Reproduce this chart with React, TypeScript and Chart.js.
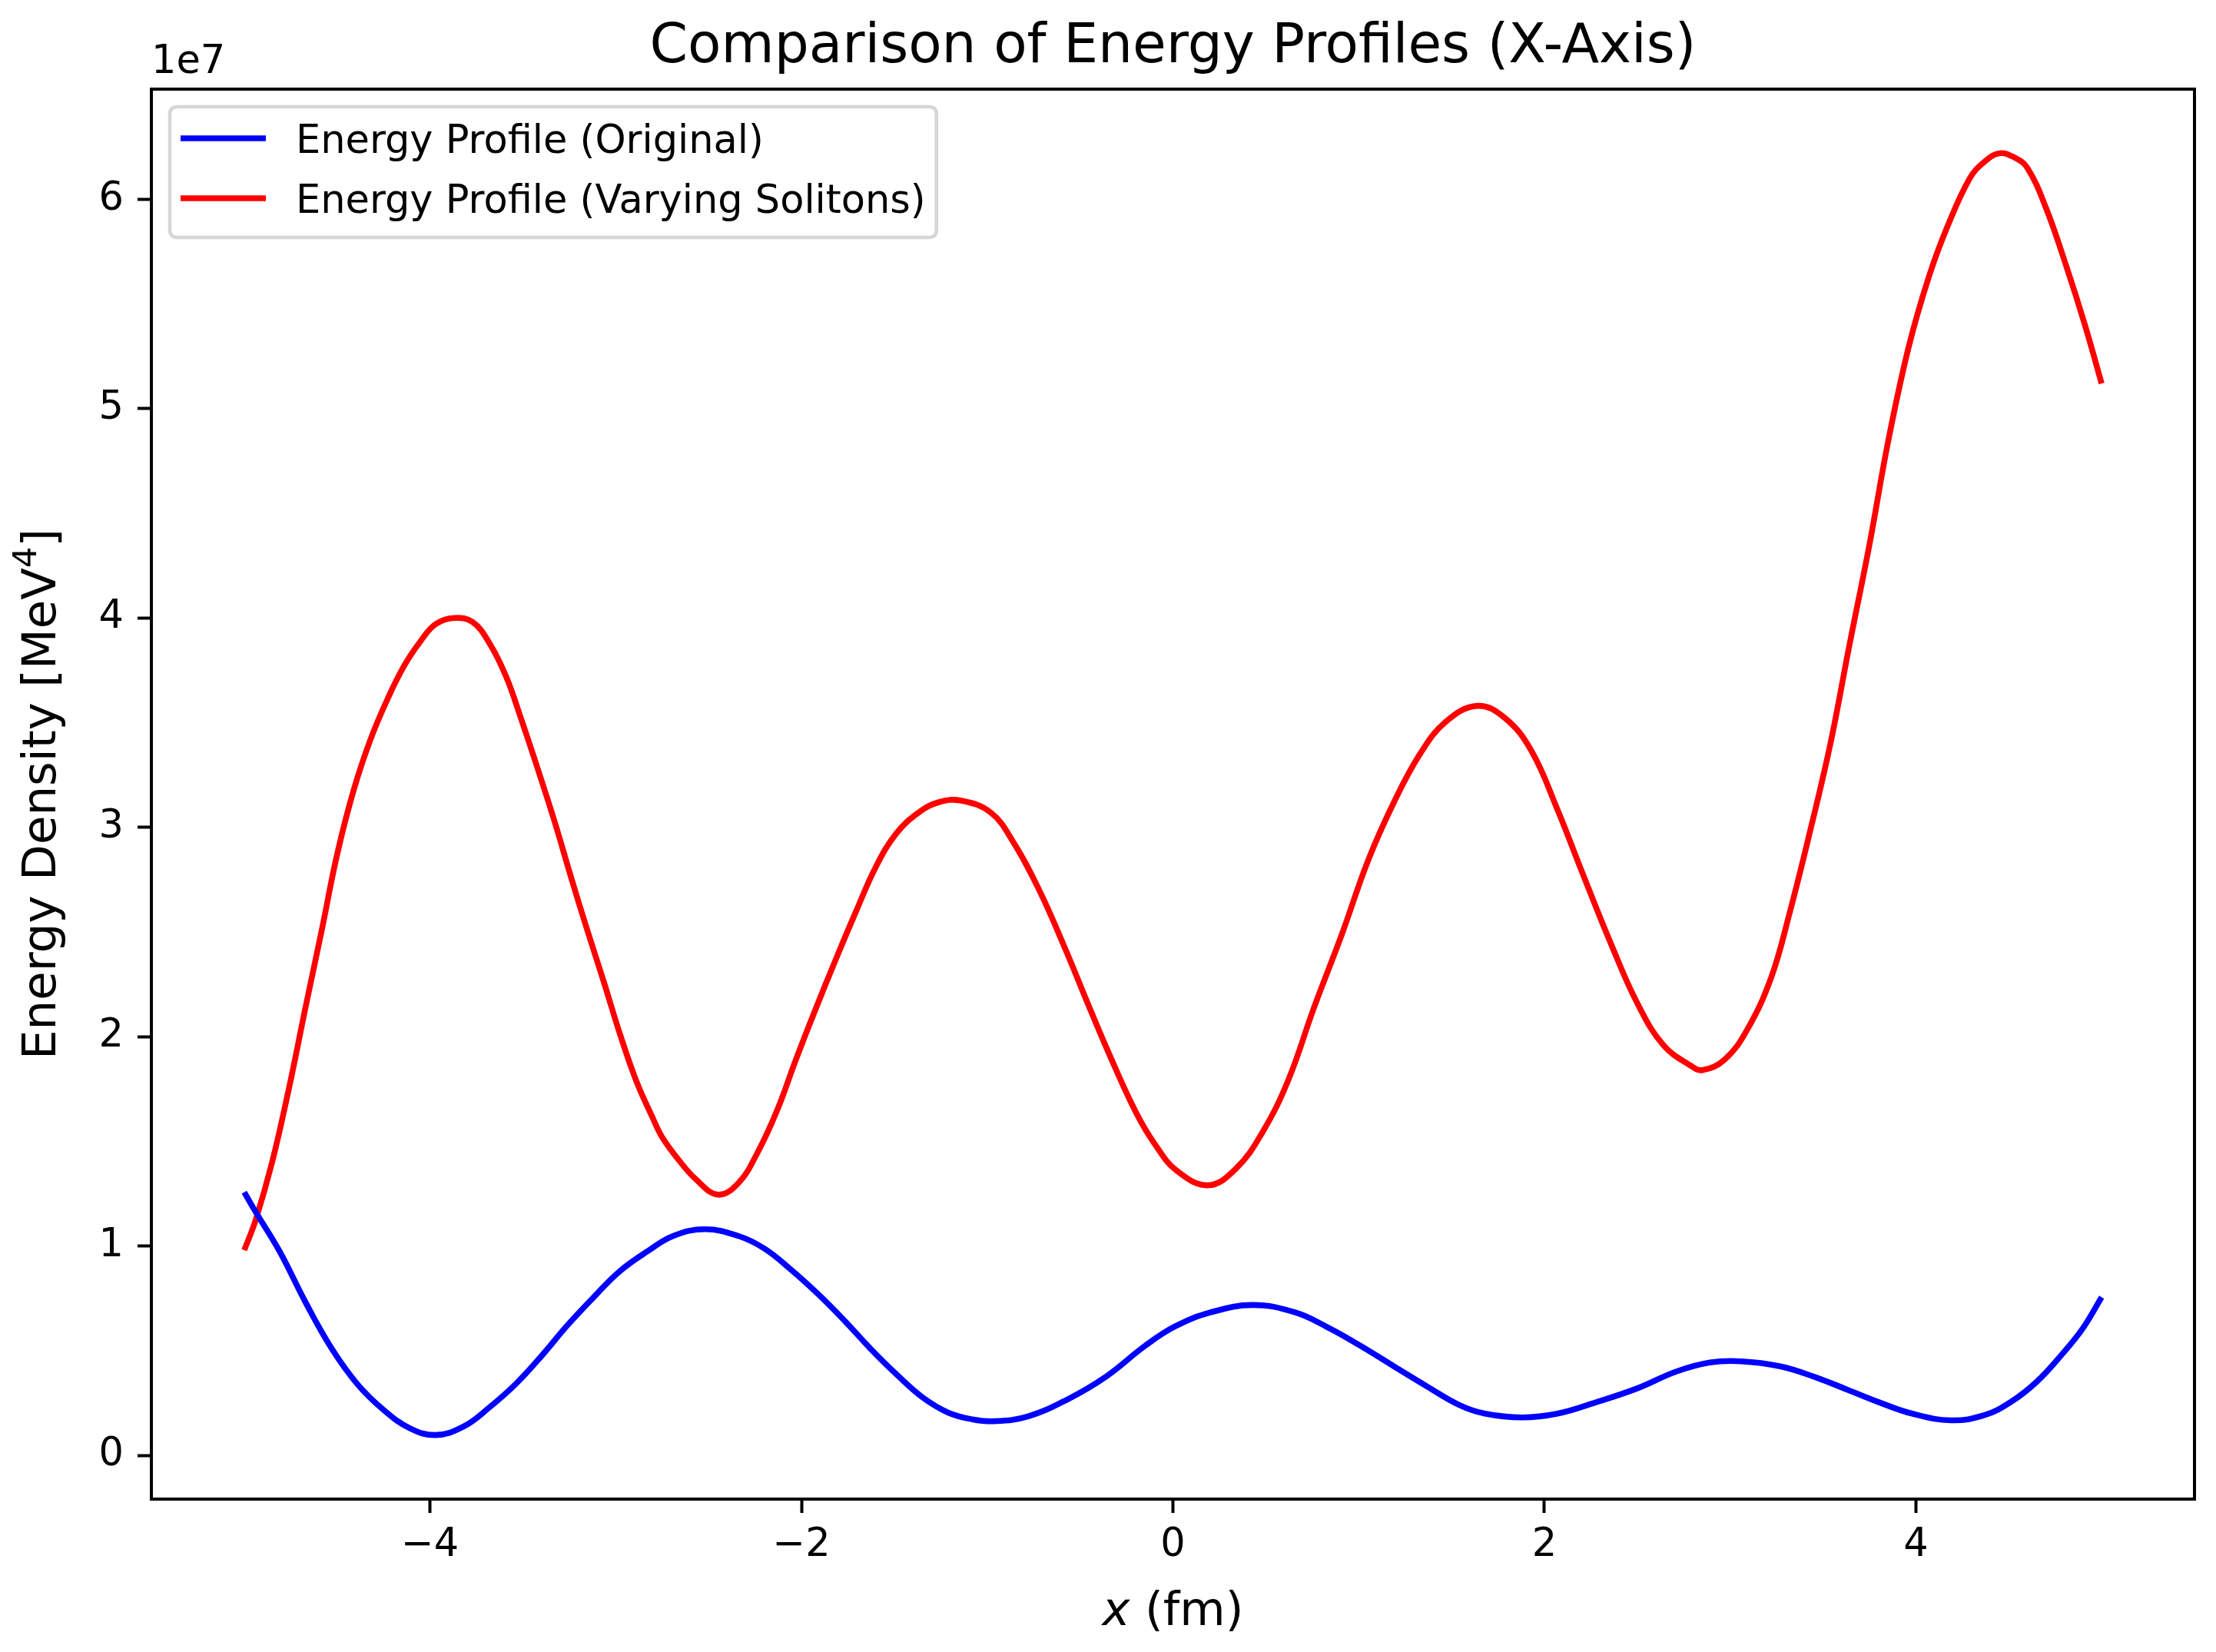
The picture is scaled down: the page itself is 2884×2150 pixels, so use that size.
import React, { useEffect, useRef } from 'react';
import { Chart, registerables } from 'chart.js';

Chart.register(...registerables);

// ---------- data (energy values in units of 1e7 MeV^4) ----------
const xOriginal = [-5.0, -4.94, -4.81, -4.67, -4.53, -4.39, -4.25, -4.11, -3.97, -3.82, -3.68, -3.54, -3.40, -3.26, -3.12, -2.98, -2.83, -2.69, -2.52, -2.34, -2.20, -2.06, -1.91, -1.77, -1.63, -1.49, -1.35, -1.21, -1.08, -0.96, -0.78, -0.57, -0.36, -0.15, 0.01, 0.20, 0.43, 0.66, 0.84, 1.01, 1.19, 1.37, 1.54, 1.68, 1.88, 2.07, 2.28, 2.50, 2.71, 2.89, 3.06, 3.27, 3.45, 3.63, 3.80, 3.98, 4.19, 4.37, 4.51, 4.65, 4.79, 4.90, 5.0];
const energyOriginalE7 = [1.257, 1.165, 0.975, 0.731, 0.511, 0.339, 0.217, 0.130, 0.097, 0.137, 0.229, 0.339, 0.474, 0.621, 0.754, 0.878, 0.974, 1.048, 1.080, 1.048, 0.988, 0.890, 0.770, 0.645, 0.511, 0.388, 0.278, 0.204, 0.172, 0.163, 0.186, 0.266, 0.376, 0.523, 0.615, 0.682, 0.718, 0.682, 0.608, 0.523, 0.425, 0.328, 0.241, 0.199, 0.181, 0.199, 0.254, 0.320, 0.400, 0.443, 0.449, 0.425, 0.376, 0.314, 0.254, 0.199, 0.167, 0.192, 0.254, 0.351, 0.486, 0.608, 0.755];

const xVarying = [-5.0, -4.94, -4.85, -4.76, -4.67, -4.58, -4.50, -4.41, -4.32, -4.23, -4.14, -4.05, -3.97, -3.87, -3.77, -3.68, -3.59, -3.51, -3.42, -3.33, -3.24, -3.15, -3.06, -2.98, -2.89, -2.80, -2.75, -2.66, -2.57, -2.45, -2.34, -2.24, -2.13, -2.03, -1.92, -1.81, -1.71, -1.60, -1.49, -1.37, -1.26, -1.14, -0.98, -0.86, -0.72, -0.58, -0.45, -0.33, -0.20, -0.10, 0.02, 0.19, 0.34, 0.48, 0.62, 0.76, 0.91, 1.05, 1.19, 1.33, 1.47, 1.64, 1.79, 1.93, 2.07, 2.21, 2.36, 2.50, 2.64, 2.79, 2.85, 2.97, 3.09, 3.22, 3.32, 3.43, 3.54, 3.64, 3.75, 3.85, 3.96, 4.07, 4.17, 4.29, 4.37, 4.45, 4.53, 4.60, 4.70, 4.81, 4.91, 5.0];
const energyVaryingE7 = [0.98, 1.12, 1.40, 1.75, 2.14, 2.52, 2.87, 3.18, 3.42, 3.61, 3.77, 3.89, 3.97, 4.00, 3.98, 3.88, 3.72, 3.52, 3.28, 3.03, 2.76, 2.50, 2.25, 2.02, 1.79, 1.61, 1.52, 1.41, 1.32, 1.245, 1.30, 1.44, 1.65, 1.89, 2.14, 2.38, 2.59, 2.81, 2.97, 3.07, 3.12, 3.127, 3.07, 2.93, 2.70, 2.42, 2.14, 1.89, 1.64, 1.49, 1.36, 1.29, 1.37, 1.54, 1.79, 2.14, 2.49, 2.84, 3.12, 3.35, 3.505, 3.58, 3.52, 3.365, 3.085, 2.77, 2.44, 2.16, 1.96, 1.86, 1.84, 1.89, 2.03, 2.28, 2.59, 2.98, 3.40, 3.86, 4.35, 4.84, 5.29, 5.63, 5.87, 6.10, 6.18, 6.22, 6.20, 6.15, 5.96, 5.68, 5.40, 5.12];

const xTickValues = [-4, -2, 0, 2, 4];
const yTickValues = [0, 1, 2, 3, 4, 5, 6];
const seriesLabels = ['Energy Profile (Original)', 'Energy Profile (Varying Solitons)'];
const seriesColors = ['#0000ff', '#ff0000'];
const titleText = 'Comparison of Energy Profiles (X-Axis)';
const offsetText = '1e7';
const yLabelMain = 'Energy Density [MeV';
const yLabelSup = '4';
const yLabelEnd = ']';
const xLabelMath = 'x';
const xLabelRest = ' (fm)';

const FONT = "'DejaVu Sans', 'Liberation Sans', sans-serif";
const W = 2884;
const H = 2150;

function paddedRange(values: number[]) {
  let lo = Infinity;
  let hi = -Infinity;
  values.forEach((v) => {
    if (v < lo) lo = v;
    if (v > hi) hi = v;
  });
  const m = (hi - lo) * 0.05;
  return { min: lo - m, max: hi + m };
}

const fmtTick = (v: number) => (v < 0 ? '\u2212' + Math.abs(v) : String(v));

const decorPlugin = {
  id: 'decor',
  afterDatasetsDraw(chart: any) {
    const { ctx, chartArea: a } = chart;
    ctx.save();
    // frame (spines)
    ctx.strokeStyle = '#000';
    ctx.lineWidth = 4;
    ctx.strokeRect(a.left, a.top, a.right - a.left, a.bottom - a.top);

    // legend
    const fs = 51;
    ctx.font = `${fs}px ${FONT}`;
    let maxW = 0;
    seriesLabels.forEach((t) => {
      maxW = Math.max(maxW, ctx.measureText(t).width);
    });
    const bx = a.left + 24;
    const by = a.top + 23;
    const textX = bx + 164;
    const bw = textX - bx + maxW + 14;
    const bh = 170;
    const r = 10;
    ctx.beginPath();
    ctx.moveTo(bx + r, by);
    ctx.lineTo(bx + bw - r, by);
    ctx.quadraticCurveTo(bx + bw, by, bx + bw, by + r);
    ctx.lineTo(bx + bw, by + bh - r);
    ctx.quadraticCurveTo(bx + bw, by + bh, bx + bw - r, by + bh);
    ctx.lineTo(bx + r, by + bh);
    ctx.quadraticCurveTo(bx, by + bh, bx, by + bh - r);
    ctx.lineTo(bx, by + r);
    ctx.quadraticCurveTo(bx, by, bx + r, by);
    ctx.closePath();
    ctx.fillStyle = 'rgba(255,255,255,0.8)';
    ctx.fill();
    ctx.strokeStyle = 'rgba(204,204,204,0.8)';
    ctx.lineWidth = 4.5;
    ctx.stroke();

    seriesLabels.forEach((t, i) => {
      const cy = by + 41 + i * 78;
      ctx.strokeStyle = seriesColors[i];
      ctx.lineWidth = 7.6;
      ctx.lineCap = 'butt';
      ctx.beginPath();
      ctx.moveTo(bx + 14, cy);
      ctx.lineTo(bx + 125, cy);
      ctx.stroke();
      ctx.fillStyle = '#000';
      ctx.textAlign = 'left';
      ctx.textBaseline = 'alphabetic';
      ctx.fillText(t, textX, cy + 19);
    });
    ctx.restore();
  },
  afterDraw(chart: any) {
    const { ctx, chartArea: a } = chart;
    const cx = (a.left + a.right) / 2;
    const cy = (a.top + a.bottom) / 2;
    ctx.save();
    ctx.fillStyle = '#000';
    ctx.textBaseline = 'alphabetic';

    // title
    ctx.font = `71px ${FONT}`;
    ctx.textAlign = 'center';
    ctx.fillText(titleText, cx, 81);

    // offset text
    ctx.font = `51px ${FONT}`;
    ctx.textAlign = 'left';
    ctx.fillText(offsetText, a.left, 95);

    // x label: italic x + (fm)
    const mainF = `61px ${FONT}`;
    const italF = `italic 61px ${FONT}`;
    ctx.font = italF;
    const wx = ctx.measureText(xLabelMath).width;
    ctx.font = mainF;
    const wr = ctx.measureText(xLabelRest).width;
    const sx = cx - (wx + wr) / 2;
    ctx.textAlign = 'left';
    ctx.font = italF;
    ctx.fillText(xLabelMath, sx, 2115);
    ctx.font = mainF;
    ctx.fillText(xLabelRest, sx + wx, 2115);

    // y label rotated with superscript
    ctx.translate(72, cy);
    ctx.rotate(-Math.PI / 2);
    const supF = `43px ${FONT}`;
    ctx.font = mainF;
    const w1 = ctx.measureText(yLabelMain).width;
    const w3 = ctx.measureText(yLabelEnd).width;
    ctx.font = supF;
    const w2 = ctx.measureText(yLabelSup).width;
    const start = -(w1 + w2 + w3) / 2;
    ctx.font = mainF;
    ctx.fillText(yLabelMain, start, 0);
    ctx.font = supF;
    ctx.fillText(yLabelSup, start + w1, -25);
    ctx.font = mainF;
    ctx.fillText(yLabelEnd, start + w1 + w2, 0);
    ctx.restore();
  },
};

export default function App() {
  const canvasRef = useRef<HTMLCanvasElement | null>(null);

  useEffect(() => {
    const canvas = canvasRef.current;
    if (!canvas) return;
    const xr = paddedRange([...xOriginal, ...xVarying]);
    const yr = paddedRange([...energyOriginalE7, ...energyVaryingE7]);

    const tickFont = { family: FONT, size: 51 };
    const gridOpts = {
      display: true,
      drawOnChartArea: false,
      drawTicks: true,
      tickLength: 18,
      tickWidth: 4,
      tickColor: '#000',
    };

    const lineStyle = {
      borderWidth: 7.6,
      pointRadius: 0,
      fill: false,
      tension: 0.4,
      cubicInterpolationMode: 'default',
      borderJoinStyle: 'round',
    };

    const chart = new Chart(canvas, {
      type: 'line',
      data: {
        datasets: [
          {
            label: seriesLabels[0],
            data: xOriginal.map((x, i) => ({ x, y: energyOriginalE7[i] })),
            borderColor: seriesColors[0],
            backgroundColor: seriesColors[0],
            ...lineStyle,
          },
          {
            label: seriesLabels[1],
            data: xVarying.map((x, i) => ({ x, y: energyVaryingE7[i] })),
            borderColor: seriesColors[1],
            backgroundColor: seriesColors[1],
            ...lineStyle,
          },
        ],
      },
      options: {
        animation: false,
        responsive: false,
        devicePixelRatio: 1,
        events: [],
        layout: { padding: { top: 116, right: 28, left: 0, bottom: 0 } },
        plugins: {
          legend: { display: false },
          title: { display: false },
          tooltip: { enabled: false },
        },
        scales: {
          x: {
            type: 'linear',
            position: 'bottom',
            min: xr.min,
            max: xr.max,
            grid: gridOpts,
            border: { display: false },
            ticks: {
              font: tickFont,
              color: '#000',
              padding: 12,
              maxRotation: 0,
              autoSkip: false,
              callback: (v: any) => fmtTick(Number(v)),
            },
            afterBuildTicks: (s: any) => {
              s.ticks = xTickValues.map((v) => ({ value: v }));
            },
            afterFit: (s: any) => {
              s.height = H - 1951;
            },
          },
          y: {
            type: 'linear',
            position: 'left',
            min: yr.min,
            max: yr.max,
            grid: gridOpts,
            border: { display: false },
            ticks: {
              font: tickFont,
              color: '#000',
              padding: 18,
              autoSkip: false,
              callback: (v: any) => fmtTick(Number(v)),
            },
            afterBuildTicks: (s: any) => {
              s.ticks = yTickValues.map((v) => ({ value: v }));
            },
            afterFit: (s: any) => {
              s.width = 197;
            },
          },
        },
      },
      plugins: [decorPlugin],
    } as any);

    return () => chart.destroy();
  }, []);

  return (
    <div style={{ position: 'absolute', left: 0, top: 0, width: W, height: H, background: '#fff' }}>
      <canvas ref={canvasRef} width={W} height={H} style={{ display: 'block', width: W, height: H }} />
    </div>
  );
}
